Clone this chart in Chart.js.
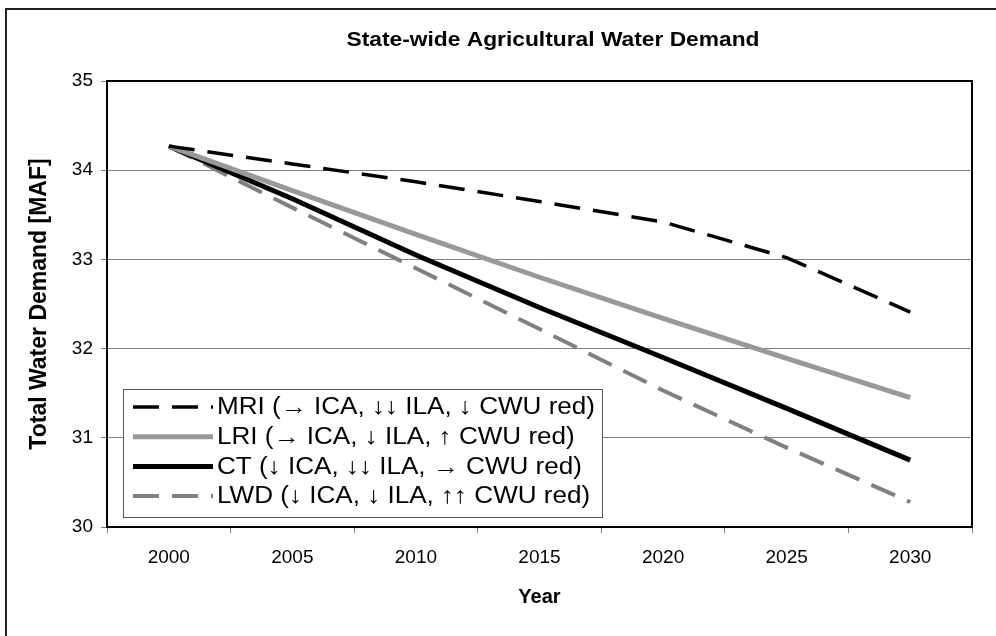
<!DOCTYPE html>
<html>
<head>
<meta charset="utf-8">
<script src="https://cdn.jsdelivr.net/npm/chart.js@4.4.1/dist/chart.umd.min.js"></script>
<style>
    html, body { margin: 0; padding: 0; background: #fff; overflow: hidden; }
    #frame { position: absolute; left: 5px; top: 8px; width: 1200px; height: 800px;
             border: 2px solid #222; box-sizing: border-box; }
    #wrap  { position: absolute; left: 0; top: 0; width: 996px; height: 636px; }
</style>
</head>
<body>
<div id="frame"></div>
<div id="wrap"><canvas id="chart" width="996" height="636"></canvas></div>
<script>
'use strict';

// ── Data ──────────────────────────────────────────────────────────────────────
const years   = ['2000', '2005', '2010', '2015', '2020', '2025', '2030'];
const mriVals = [34.27, 34.07, 33.87, 33.65, 33.42, 33.02, 32.41];
const lriVals = [34.27, 33.77, 33.28, 32.80, 32.34, 31.89, 31.45];
const ctVals  = [34.27, 33.68, 33.05, 32.46, 31.90, 31.33, 30.75];
const lwdVals = [34.27, 33.58, 32.90, 32.22, 31.53, 30.89, 30.28];
const yTicks  = [30, 31, 32, 33, 34, 35];

const FONT = '"Liberation Sans", Arial, sans-serif';

// draw text stretched to a target width (reference text is wide)
function wideText(ctx, text, x, y, targetW, align) {
    const w = ctx.measureText(text).width;
    const k = targetW / w;
    ctx.save();
    ctx.translate(x, y);
    ctx.scale(k, 1);
    ctx.textAlign = align;
    ctx.fillText(text, 0, 0);
    ctx.restore();
}

// ── Plugins ───────────────────────────────────────────────────────────────────
// plot area border + title + in-plot legend (Excel style)
const excelDecor = {
    id: 'excelDecor',
    afterDatasetsDraw(chart) {
        const { ctx, chartArea: a } = chart;
        ctx.save();
        ctx.strokeStyle = '#000';
        ctx.lineWidth = 2;
        ctx.strokeRect(a.left, a.top, a.right - a.left, a.bottom - a.top);

        // legend box
        const lx = 123, ly = 389, lw = 479, lh = 128;
        ctx.fillStyle = '#fff';
        ctx.fillRect(lx, ly, lw, lh);
        ctx.strokeStyle = '#555';
        ctx.lineWidth = 1;
        ctx.strokeRect(lx + 0.5, ly + 0.5, lw, lh);

        ctx.font = `23px ${FONT}`;
        ctx.textBaseline = 'middle';
        const longest = Math.max(...chart.data.datasets.map(d => ctx.measureText(d.label).width));
        const k = 378 / longest;
        chart.data.datasets.forEach((ds, i) => {
            const y = ly + 18 + i * 29.7;
            ctx.beginPath();
            ctx.strokeStyle = ds.borderColor;
            ctx.lineWidth = ds.borderWidth;
            ctx.setLineDash(ds.borderDash || []);
            ctx.lineCap = 'butt';
            ctx.moveTo(133, y);
            ctx.lineTo(213, y);
            ctx.stroke();
            ctx.setLineDash([]);
            ctx.fillStyle = '#000';
            wideText(ctx, ds.label, 217, y + 1, ctx.measureText(ds.label).width * k, 'left');
        });

        ctx.font = `bold 20px ${FONT}`;
        ctx.fillStyle = '#000';
        wideText(ctx, 'State-wide Agricultural Water Demand', 553, 40, 413, 'center');
        ctx.restore();
    }
};

// ── Chart ─────────────────────────────────────────────────────────────────────
new Chart(document.getElementById('chart'), {
    type: 'line',
    data: {
        labels: years,
        datasets: [
            { label: 'MRI (\u2192 ICA, \u2193\u2193 ILA, \u2193 CWU red)', data: mriVals,
              borderColor: '#000', borderWidth: 3.5, borderDash: [26, 13] },
            { label: 'LRI (\u2192 ICA, \u2193 ILA, \u2191 CWU red)', data: lriVals,
              borderColor: '#999999', borderWidth: 5 },
            { label: 'CT (\u2193 ICA, \u2193\u2193 ILA, \u2192 CWU red)', data: ctVals,
              borderColor: '#000', borderWidth: 5 },
            { label: 'LWD (\u2193 ICA, \u2193 ILA, \u2191\u2191 CWU red)', data: lwdVals,
              borderColor: '#808080', borderWidth: 4, borderDash: [26, 13] },
        ].map(d => Object.assign({ pointRadius: 0, tension: 0, fill: false }, d))
    },
    options: {
        responsive: false,
        animation: false,
        layout: { padding: { top: 81, right: 24, left: 0, bottom: 0 } },
        plugins: {
            legend: { display: false },
            title:  { display: false },
            tooltip: { enabled: false }
        },
        scales: {
            x: {
                offset: true,
                afterFit: s => { s.height = 109; },
                grid: { offset: true, drawOnChartArea: false, tickLength: 6,
                        color: '#808080', tickColor: '#808080' },
                border: { display: false },
                ticks: { color: '#000', font: { family: FONT, size: 19 }, padding: 13,
                         maxRotation: 0 },
                title: { display: true, text: 'Year', color: '#000',
                         font: { family: FONT, size: 20, weight: 'bold' },
                         padding: { top: 0, bottom: 27 } }
            },
            y: {
                min: 30, max: 35,
                afterFit: s => { s.width = 107; },
                afterBuildTicks: s => { s.ticks = yTicks.map(v => ({ value: v })); },
                grid: {
                    tickLength: 6,
                    color: c => (c.tick && (c.tick.value === 30 || c.tick.value === 35)) ? 'rgba(0,0,0,0)' : '#808080',
                    tickColor: '#808080'
                },
                border: { display: false },
                ticks: { color: '#000', font: { family: FONT, size: 19 }, padding: 8 },
                title: { display: true, text: 'Total Water Demand [MAF]', color: '#000',
                         font: { family: FONT, size: 23, weight: 'bold' },
                         padding: { top: 26, bottom: 0 } }
            }
        }
    },
    plugins: [excelDecor]
});
</script>
</body>
</html>
